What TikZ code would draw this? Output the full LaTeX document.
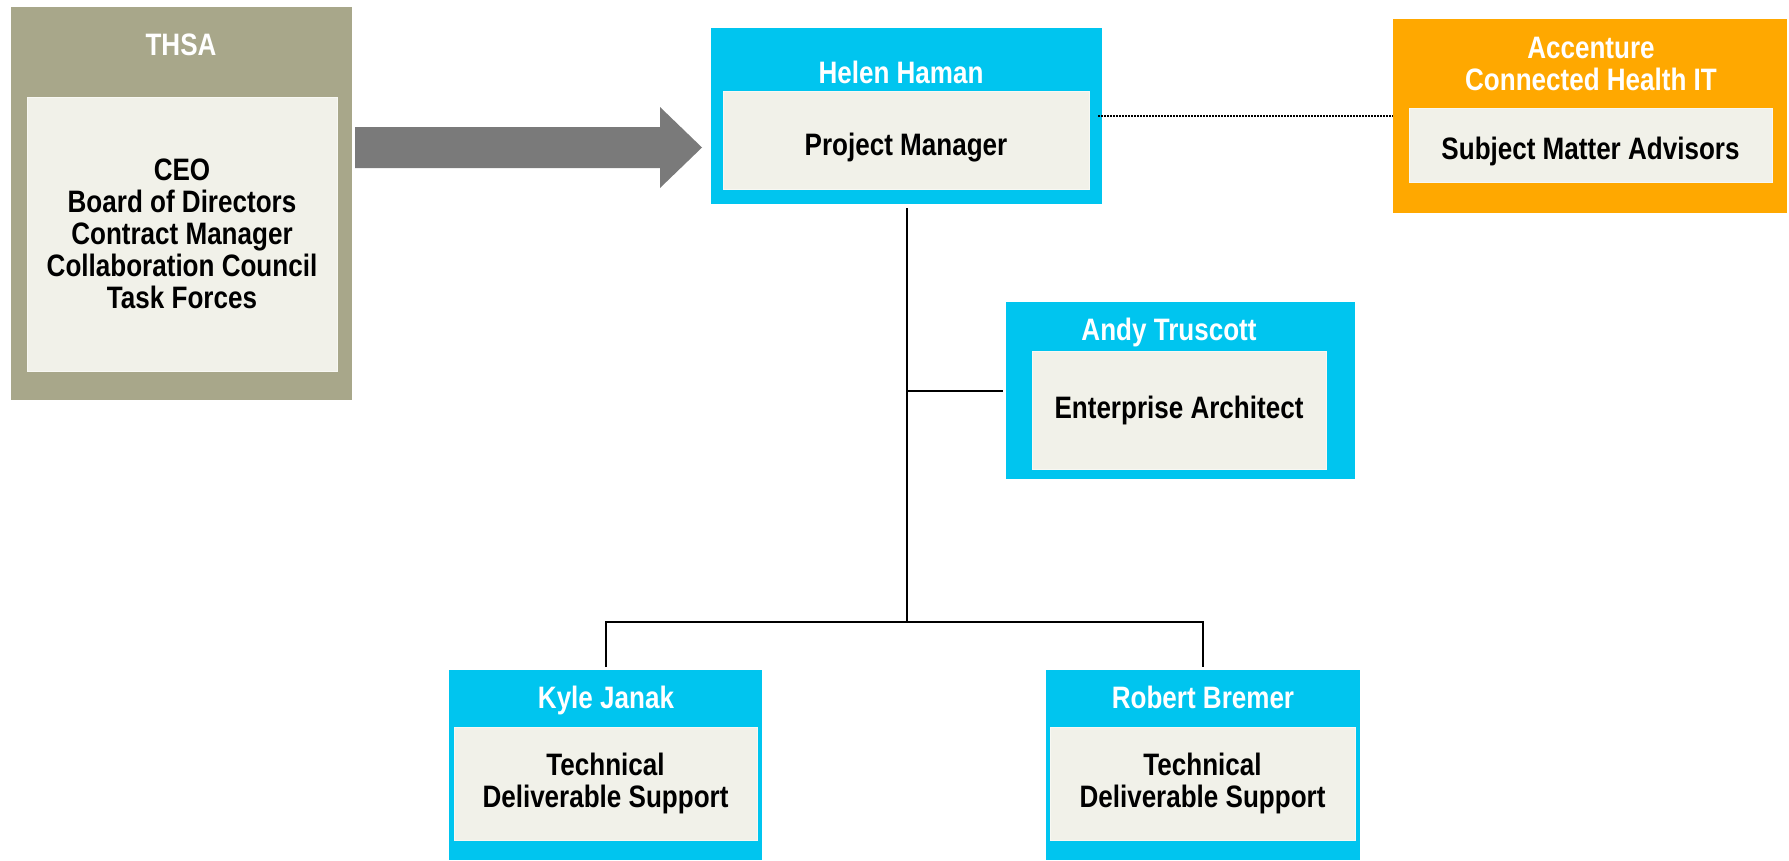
\documentclass[tikz,border=0pt]{standalone}
\usepackage{fontspec}
\setmainfont{Liberation Sans}[FakeStretch=0.84]
\usepackage{tikz}
\usetikzlibrary{calc}
\usetikzlibrary{positioning}
\definecolor{org-olive}{HTML}{A8A78A}
\definecolor{org-cyan}{HTML}{00C5EF}
\definecolor{org-orange}{HTML}{FFA800}
\definecolor{org-cream}{HTML}{F1F1E9}
\definecolor{org-edge}{HTML}{F8F8F3}
\definecolor{org-arrow}{HTML}{7A7A7A}

\begin{document}
\begin{tikzpicture}[x=1pt, y=-1pt]

    \useasboundingbox (0,0) rectangle (1789,860);

    % outer boxes
    \begin{scope}[every node/.style={anchor=north west, inner sep=0, outer sep=0}]
        \node[fill=org-olive, minimum width=341, minimum height=393] (thsa) at (11,7) {};
        \node[fill=org-cyan, minimum width=391, minimum height=176] (helen) at (711,28) {};
        \node[fill=org-orange, minimum width=394, minimum height=194] (accenture) at (1393,19) {};
        \node[fill=org-cyan, minimum width=349, minimum height=177] (andy) at (1006,302) {};
        \node[fill=org-cyan, minimum width=313, minimum height=190] (kyle) at (449,670) {};
        \node[fill=org-cyan, minimum width=314, minimum height=190] (robert) at (1046,670) {};
    \end{scope}

    % titles (base = last line)
    \begin{scope}[every node/.style={anchor=base, inner sep=0, align=center, text=white,
                  font=\bfseries\fontsize{31}{32}\selectfont}]
        \node (thsa-title) at (181,55) {THSA};
        \node (helen-title) at (901,83) {Helen Haman};
        \node (accenture-title) at (1591,90) {Accenture\\Connected Health IT};
        \node (andy-title) at (1169,340) {Andy Truscott};
        \node (kyle-title) at (606,708) {Kyle Janak};
        \node (robert-title) at (1203,708) {Robert Bremer};
    \end{scope}

    % inner boxes
    \begin{scope}[every node/.style={anchor=north west, inner sep=0, outer sep=0, align=center,
                  fill=org-cream, draw=org-edge, line width=1pt,
                  font=\bfseries\fontsize{31}{32}\selectfont}]
        \node[minimum width=310, minimum height=274] (thsa-role) at (27,97)
            {CEO\\Board of Directors\\Contract Manager\\Collaboration Council\\Task Forces};
        \node[minimum width=366, minimum height=98, text height=30, text depth=0] (helen-role) at (723,91)
            {Project Manager};
        \node[minimum width=363, minimum height=74, text height=28, text depth=0] (accenture-role) at (1409,108)
            {Subject Matter Advisors};
        \node[minimum width=294, minimum height=118] (andy-role) at (1032,351) {Enterprise Architect};
        \node[minimum width=303, minimum height=113] (kyle-role) at (454,727) {Technical\\Deliverable Support};
        \node[minimum width=305, minimum height=113] (robert-role) at (1050,727) {Technical\\Deliverable Support};
    \end{scope}

    % big arrow
    \coordinate (arrowtail) at (355,147.5);
    \coordinate (arrowtip) at (702,147.5);
    \fill[org-arrow] ($(arrowtail)+(0,-20.5)$) -- ($(arrowtip)+(-42,-20.5)$) -- ($(arrowtip)+(-42,-40.5)$)
        -- (arrowtip) -- ($(arrowtip)+(-42,40.5)$) -- ($(arrowtip)+(-42,20.5)$)
        -- ($(arrowtail)+(0,20.5)$) -- cycle;

    % advisors
    \draw[densely dotted, line width=2pt] ($(helen.east)+(-4,0)$) -- (accenture.west);

    % reporting lines
    \coordinate (fork) at ($(helen.south)+(0,418)$);
    \begin{scope}[line width=2pt]
        \draw[shorten <=4pt] (helen.south) -- (fork);
        \draw[shorten >=3pt] (andy.west -| helen.south) -- (andy.west);
        \draw[shorten <=3pt, shorten >=3pt] (kyle.north) |- (fork) -| (robert.north);
    \end{scope}

\end{tikzpicture}
\end{document}
